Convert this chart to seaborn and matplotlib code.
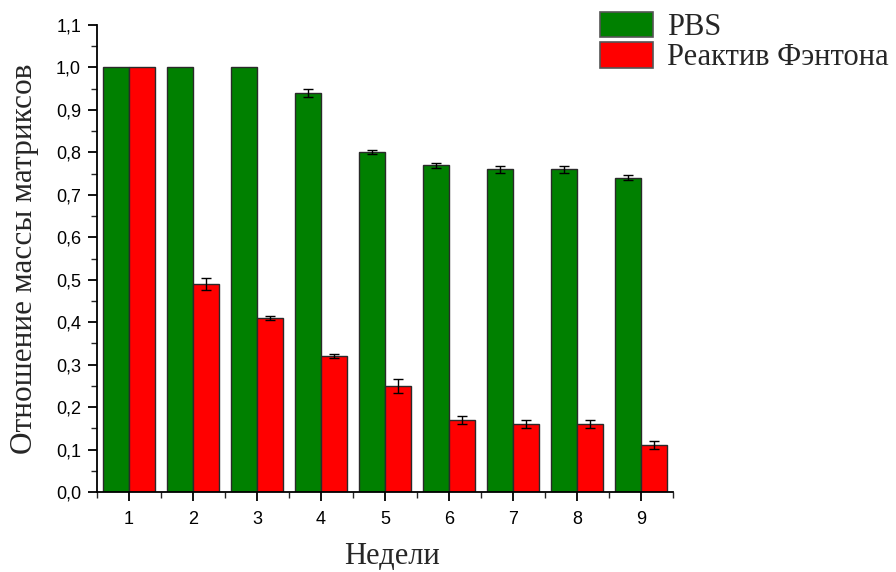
import numpy as np
import pandas as pd
import matplotlib
matplotlib.use("Agg")
import matplotlib.pyplot as plt
from matplotlib.ticker import MultipleLocator, FuncFormatter
import seaborn as sns

# Mass ratio of matrices over nine weeks in two media
weeks = ["1", "2", "3", "4", "5", "6", "7", "8", "9"]
groups = ["PBS", "Реактив Фэнтона"]
pbs_values = [1.00, 1.00, 1.00, 0.94, 0.80, 0.77, 0.76, 0.76, 0.74]
pbs_errors = [0.0, 0.0, 0.0, 0.010, 0.005, 0.006, 0.009, 0.009, 0.006]
fenton_values = [1.00, 0.49, 0.41, 0.32, 0.25, 0.17, 0.16, 0.16, 0.11]
fenton_errors = [0.0, 0.015, 0.005, 0.005, 0.017, 0.010, 0.010, 0.010, 0.009]

df = pd.DataFrame({
    "week": weeks * 2,
    "ratio": pbs_values + fenton_values,
    "group": [groups[0]] * len(weeks) + [groups[1]] * len(weeks),
})

sns.set_style("ticks")
plt.rcParams["font.family"] = ["Liberation Sans", "DejaVu Sans"]
serif = ["Liberation Serif", "DejaVu Serif"]

fig = plt.figure(figsize=(8.96, 5.72), dpi=100)
ax = fig.add_axes([97 / 896, 80 / 572, (673 - 97) / 896, (492 - 25) / 572])

palette = {groups[0]: "#008000", groups[1]: "#ff0000"}
sns.barplot(data=df, x="week", y="ratio", hue="group", order=weeks,
            hue_order=groups, palette=palette, saturation=1, width=0.8,
            errorbar=None, edgecolor="#2a2a2a", linewidth=1.0, ax=ax,
            legend=False)

# Error bars on top of each bar
for container, errs in zip(ax.containers, [pbs_errors, fenton_errors]):
    for bar, err in zip(container, errs):
        if err <= 0:
            continue
        cx = bar.get_x() + bar.get_width() / 2
        ax.errorbar(cx, bar.get_height(), yerr=err, fmt="none",
                    ecolor="black", elinewidth=1.0, capsize=3.6,
                    capthick=1.0, zorder=5)

ax.set_xlim(-0.5, 8.5)
ax.set_ylim(0, 1.1)
ax.yaxis.set_major_locator(MultipleLocator(0.1))
ax.yaxis.set_minor_locator(MultipleLocator(0.05))
ax.yaxis.set_major_formatter(FuncFormatter(lambda v, p: f"{v:.1f}".replace(".", ",")))
ax.set_xticks(range(len(weeks)))
ax.set_xticklabels(weeks)
ax.set_xticks(np.arange(-0.5, len(weeks), 1.0), minor=True)

ax.tick_params(axis="both", which="major", direction="out", length=6.5,
               width=1.3, labelsize=13, colors="black")
ax.tick_params(axis="x", which="major", pad=7)
ax.tick_params(axis="y", which="major", pad=5)
ax.tick_params(axis="both", which="minor", direction="out", length=4,
               width=1.0)
for side in ["left", "bottom"]:
    ax.spines[side].set_linewidth(1.3)
    ax.spines[side].set_color("black")
sns.despine(ax=ax)

ax.set_xlabel("Недели", family=serif, fontsize=22)
ax.xaxis.set_label_coords(0.512, -0.106)
ax.set_ylabel("Отношение массы матриксов", family=serif, fontsize=22.5,
              labelpad=12)

handles = [plt.Rectangle((0, 0), 1, 1, facecolor=palette[g],
                         edgecolor="#555555", linewidth=1.2) for g in groups]
fig.legend(handles, groups, loc="upper left",
           bbox_to_anchor=(600 / 896, 1 - 12 / 572), frameon=False,
           prop={"family": serif, "size": 22},
           handlelength=1.75, handleheight=0.9, handletextpad=0.45,
           labelspacing=0.0, borderpad=0.0, borderaxespad=0.0)

fig.savefig("out.png", dpi=100, facecolor="white")
